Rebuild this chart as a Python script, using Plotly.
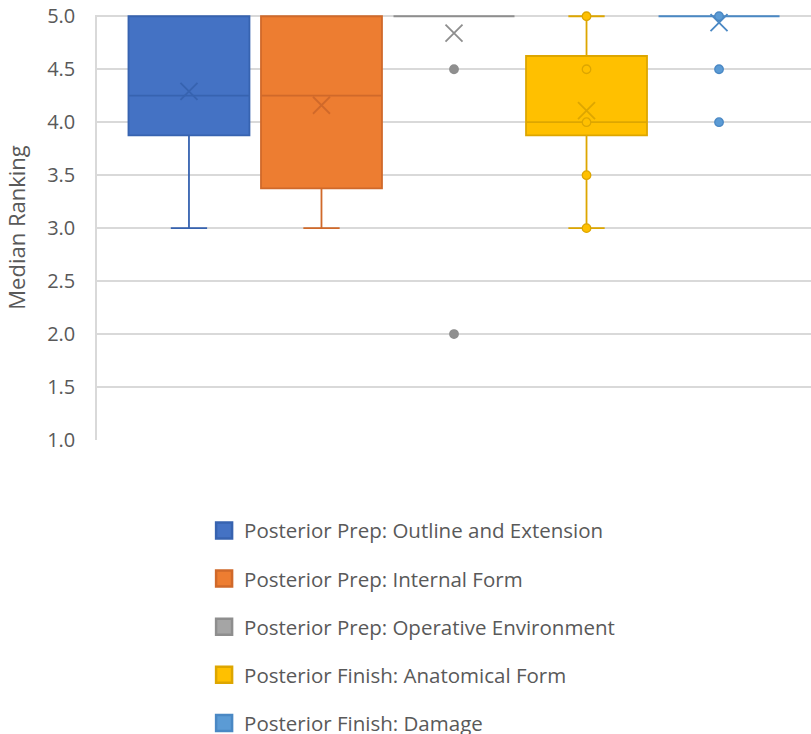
import plotly.graph_objects as go

# Series names and colours
series = [
    "Posterior Prep: Outline and Extension",
    "Posterior Prep: Internal Form",
    "Posterior Prep: Operative Environment",
    "Posterior Finish: Anatomical Form",
    "Posterior Finish: Damage",
]
fill_colors = ["#4472C4", "#ED7D31", "#A5A5A5", "#FFC000", "#5B9BD5"]
line_colors = ["#3763B0", "#D0692A", "#8E8E8E", "#DDA600", "#4A88C4"]

# Box-and-whisker statistics per series
q1 = [3.875, 3.375, 5.0, 3.875, 5.0]
median = [4.25, 4.25, 5.0, 4.0, 5.0]
q3 = [5.0, 5.0, 5.0, 4.625, 5.0]
lower_whisker = [3.0, 3.0, 5.0, 3.0, 5.0]
upper_whisker = [5.0, 5.0, 5.0, 5.0, 5.0]
means = [4.29, 4.16, 4.84, 4.11, 4.94]

# Individual points shown per series (outliers / inner points)
points = [
    [],
    [],
    [4.5, 2.0],
    [5.0, 4.5, 4.0, 3.5, 3.0],
    [5.0, 4.5, 4.0],
]

y_ticks = [1.0, 1.5, 2.0, 2.5, 3.0, 3.5, 4.0, 4.5, 5.0]

FONT = "Open Sans"
TEXT = "#595959"
GRID = "#D9D9D9"

fig = go.Figure()

for i, name in enumerate(series):
    fig.add_trace(go.Box(
        x=[i], q1=[q1[i]], median=[median[i]], q3=[q3[i]],
        lowerfence=[lower_whisker[i]], upperfence=[upper_whisker[i]],
        width=0.913, whiskerwidth=0.3,
        fillcolor=fill_colors[i],
        line=dict(color=line_colors[i], width=1.8),
        boxpoints=False, showlegend=False, hoverinfo="skip",
    ))
    if points[i]:
        fig.add_trace(go.Scatter(
            x=[i] * len(points[i]), y=points[i], mode="markers",
            marker=dict(size=8.5, color=fill_colors[i] if i != 2 else "#8F8F8F",
                        line=dict(color=line_colors[i], width=1.3)),
            showlegend=False, cliponaxis=False, hoverinfo="skip",
        ))
    fig.add_trace(go.Scatter(
        x=[i], y=[means[i]], mode="markers",
        marker=dict(symbol="x-thin-open", size=17, color=line_colors[i],
                    line=dict(color=line_colors[i], width=1.8)),
        showlegend=False, cliponaxis=False, hoverinfo="skip",
    ))

# Legend entries
for i, name in enumerate(series):
    fig.add_trace(go.Scatter(
        x=[None], y=[None], mode="markers", name=name,
        legendgroup=name,
        marker=dict(symbol="square", size=16, color=fill_colors[i],
                    line=dict(color=line_colors[i], width=2.5)),
    ))

fig.update_layout(
    width=811, height=734,
    margin=dict(l=97, r=0, t=15, b=294, autoexpand=False),
    paper_bgcolor="white", plot_bgcolor="white",
    font=dict(family=FONT, color=TEXT, size=20),
    showlegend=True,
    legend=dict(
        x=0.150, xanchor="left", y=-0.166, yanchor="top",
        font=dict(family=FONT, size=20.5, color=TEXT),
        tracegroupgap=18.5, itemsizing="trace",
        bgcolor="rgba(0,0,0,0)",
    ),
    xaxis=dict(
        range=[-0.694, 4.694], showgrid=False, zeroline=False,
        showticklabels=False, ticks="", showline=False,
    ),
    yaxis=dict(
        range=[1.0, 5.012], tickvals=y_ticks,
        ticktext=[f"{v:.1f}" for v in y_ticks],
        showgrid=True, gridcolor=GRID, gridwidth=1.5,
        zeroline=False, showline=True, linecolor=GRID, linewidth=1.5,
        ticks="", ticklabelstandoff=16,
        tickfont=dict(family=FONT, size=20, color=TEXT),
        title=dict(text="Median Ranking", standoff=15,
                   font=dict(family=FONT, size=22, color=TEXT)),
    ),
)

fig.write_html("out.html")
